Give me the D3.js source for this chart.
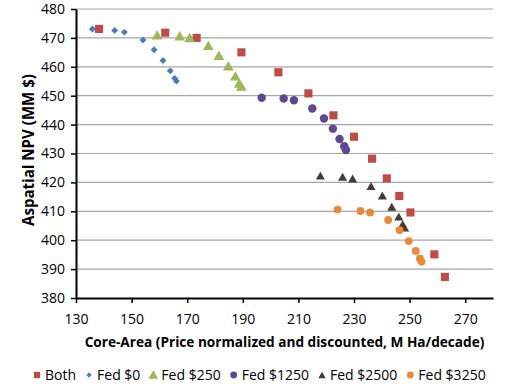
<!DOCTYPE html>
<html>
<head>
<meta charset="utf-8">
<script src="https://cdn.jsdelivr.net/npm/d3@7"></script>
<style>
  body { margin: 0; background: #fff; }
  svg { display: block; font-family: "Open Sans", sans-serif; }
</style>
</head>
<body>
<div id="chart"></div>
<script>
"use strict"

const width = 514,
  height = 388,
  margin = { top: 9, right: 21, bottom: 90, left: 76 };

// data (x = core-area, y = NPV)
const bothX = [138.3, 162.1, 173.4, 189.5, 202.8, 213.6, 222.6, 230.0, 236.5, 241.8, 246.3, 250.3, 258.9, 262.7];
const bothY = [473.1, 471.8, 470.0, 465.0, 458.1, 450.8, 443.2, 435.8, 428.2, 421.4, 415.3, 409.6, 395.1, 387.3];

const fed0X = [135.9, 143.9, 147.4, 154.1, 158.1, 161.3, 163.9, 165.5, 166.1];
const fed0Y = [473.1, 472.6, 472.0, 469.3, 465.9, 462.2, 458.6, 456.0, 455.1];

const fed250X = [159.2, 167.3, 170.9, 177.6, 181.4, 184.8, 187.3, 188.7, 189.5];
const fed250Y = [470.5, 470.2, 469.6, 466.9, 463.4, 459.8, 456.3, 453.8, 452.8];

const fed1250X = [196.8, 204.7, 208.4, 215.0, 219.2, 222.4, 224.8, 226.5, 227.1];
const fed1250Y = [449.3, 449.0, 448.4, 445.6, 442.1, 438.6, 435.0, 432.5, 431.2];

const fed2500X = [217.9, 225.9, 229.5, 236.1, 240.2, 243.6, 246.1, 247.5, 248.2];
const fed2500Y = [421.9, 421.5, 420.9, 418.3, 415.0, 411.1, 407.7, 405.1, 403.9];

const fed3250X = [224.1, 232.3, 235.8, 242.3, 246.4, 249.7, 252.2, 253.7, 254.3];
const fed3250Y = [410.6, 410.1, 409.6, 407.0, 403.5, 399.7, 396.3, 393.7, 392.6];

const xTicks = [130, 150, 170, 190, 210, 230, 250, 270];
const yTicks = [380, 390, 400, 410, 420, 430, 440, 450, 460, 470, 480];

const seriesNames = ["Both", "Fed $0", "Fed $250", "Fed $1250", "Fed $2500", "Fed $3250"];

// build series table from the arrays
const zip = (xs, ys) => xs.map((x, i) => ({ x: x, y: ys[i] }));
const series = [
  { name: seriesNames[0], pts: zip(bothX, bothY), color: "#BE4B48", shape: "square" },
  { name: seriesNames[1], pts: zip(fed0X, fed0Y), color: "#4A7EBB", shape: "diamond" },
  { name: seriesNames[2], pts: zip(fed250X, fed250Y), color: "#98B954", shape: "triangle" },
  { name: seriesNames[3], pts: zip(fed1250X, fed1250Y), color: "#5D4A8E", shape: "circle" },
  { name: seriesNames[4], pts: zip(fed2500X, fed2500Y), color: "#453A36", shape: "smalltri" },
  { name: seriesNames[5], pts: zip(fed3250X, fed3250Y), color: "#E8893A", shape: "smallcircle" }
];

const x = d3.scaleLinear().domain([130, 280]).range([margin.left, width - margin.right]);
const y = d3.scaleLinear().domain([380, 480]).range([height - margin.bottom, margin.top]);

function symbolPath(shape) {
  if (shape === "square") return d3.symbol(d3.symbolSquare, 66)();
  if (shape === "diamond") return d3.symbol(d3.symbolSquare, 24)();
  if (shape === "triangle") return d3.symbol(d3.symbolTriangle, 50)();
  if (shape === "circle") return d3.symbol(d3.symbolCircle, 56)();
  if (shape === "smalltri") return d3.symbol(d3.symbolTriangle, 36)();
  return d3.symbol(d3.symbolCircle, 48)();
}
function symbolRotate(shape) {
  return shape === "diamond" ? " rotate(45)" : "";
}

// shrink/grow a text's font until it is about the wanted length
function fitText(t, target) {
  let fs = parseFloat(t.style("font-size"));
  const len = t.node().getComputedTextLength();
  fs = fs * target / len;
  t.style("font-size", fs.toFixed(2) + "px");
}

const svg = d3.select("#chart")
  .append("svg")
  .attr("width", width)
  .attr("height", height);

// gridlines
svg.append("g")
  .selectAll("line")
  .data(yTicks.slice(1))
  .join("line")
    .attr("x1", x(130))
    .attr("x2", x(280))
    .attr("y1", d => y(d))
    .attr("y2", d => y(d))
    .attr("stroke", "#a6a6a6")
    .attr("stroke-width", 1.2);

// axes
const xAxis = svg.append("g")
  .attr("transform", `translate(0,${y(380)})`)
  .call(d3.axisBottom(x).tickValues(xTicks).tickSize(5).tickSizeOuter(0).tickPadding(11));

const yAxis = svg.append("g")
  .attr("transform", `translate(${x(130)},0)`)
  .call(d3.axisLeft(y).tickValues(yTicks).tickSize(5).tickSizeOuter(0).tickPadding(6));

[xAxis, yAxis].forEach(a => {
  a.select(".domain").attr("stroke", "#000").attr("stroke-width", 2);
  a.selectAll(".tick line").attr("stroke", "#000").attr("stroke-width", 1.5);
  a.selectAll(".tick text")
    .attr("fill", "#000")
    .style("font-size", "14px")
    .style("font-family", "Open Sans, sans-serif");
});

// points
series.forEach(s => {
  svg.append("g")
    .selectAll("path")
    .data(s.pts)
    .join("path")
      .attr("d", symbolPath(s.shape))
      .attr("transform", d => `translate(${x(d.x)},${y(d.y)})${symbolRotate(s.shape)}`)
      .attr("fill", s.color);
});

// axis titles
const xTitle = svg.append("text")
  .attr("x", (x(130) + x(280)) / 2)
  .attr("y", 347)
  .attr("text-anchor", "middle")
  .style("font-size", "13px")
  .style("font-weight", "bold")
  .text("Core-Area  (Price normalized and discounted, M Ha/decade)");
fitText(xTitle, 400);

const yTitle = svg.append("text")
  .attr("transform", "translate(34,150) rotate(-90)")
  .attr("text-anchor", "middle")
  .style("font-size", "13px")
  .style("font-weight", "bold")
  .text("Aspatial  NPV (MM $)");
fitText(yTitle, 152);

// legend
const legend = svg.append("g").attr("transform", "translate(0,375)");
let lx = 37;
series.forEach(s => {
  const g = legend.append("g").attr("transform", `translate(${lx},0)`);
  const sz = { square: 40, diamond: 14, triangle: 42, circle: 36, smalltri: 24, smallcircle: 36 }[s.shape];
  const sym = s.shape === "square" || s.shape === "diamond" ? d3.symbolSquare
    : (s.shape === "triangle" || s.shape === "smalltri" ? d3.symbolTriangle : d3.symbolCircle);
  g.append("path")
    .attr("d", d3.symbol(sym, sz)())
    .attr("transform", `translate(0,${s.shape.indexOf("tri") >= 0 ? 1 : 0})${symbolRotate(s.shape)}`)
    .attr("fill", s.color);
  const t = g.append("text")
    .attr("x", 8)
    .attr("y", 5)
    .style("font-size", "14px")
    .text(s.name);
  lx += 8 + t.node().getComputedTextLength() + 13;
});
</script>
</body>
</html>
